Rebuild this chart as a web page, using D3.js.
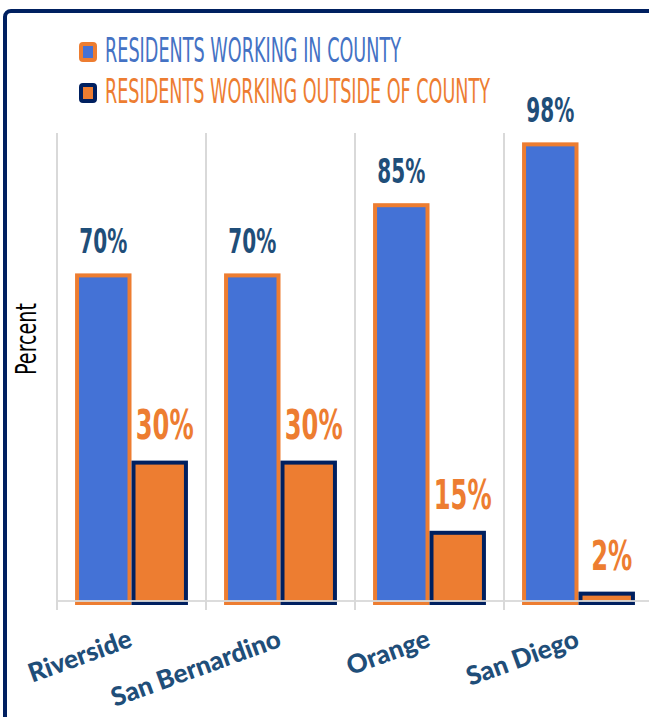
<!DOCTYPE html>
<html>
<head>
<meta charset="utf-8">
<script src="https://cdn.jsdelivr.net/npm/d3@7"></script>
<style>
  body { margin: 0; background: #fff; }
  svg { display: block; }
</style>
</head>
<body>
<svg id="chart" width="649" height="717"></svg>
<script>
// Chart data
const categories = ["Riverside", "San Bernardino", "Orange", "San Diego"];
const inCounty = [70, 70, 85, 98];
const outsideCounty = [30, 30, 15, 2];
const seriesNames = ["RESIDENTS WORKING IN COUNTY", "RESIDENTS WORKING OUTSIDE OF COUNTY"];

const BLUE = "#4472d6";
const ORANGE = "#ed7d31";
const NAVY = "#002060";
const LABEL_BLUE = "#1f4e79";
const GRID = "#d9d9d9";
const condensed = "'DejaVu Sans', sans-serif";

const svg = d3.select("#chart");

// Outer frame
svg.append("rect")
  .attr("x", 5).attr("y", 11)
  .attr("width", 700).attr("height", 760)
  .attr("rx", 6)
  .attr("fill", "none")
  .attr("stroke", NAVY)
  .attr("stroke-width", 4);

// Scales
const x = d3.scaleBand()
  .domain(categories)
  .range([57, 653]);

const sub = d3.scaleBand()
  .domain(["in", "out"])
  .range([0, x.bandwidth()])
  .paddingOuter(0.32)
  .paddingInner(0);

const y = d3.scaleLinear()
  .domain([0, 100])
  .range([601, 133]);

// Vertical gridlines at category boundaries
const bounds = categories.map(c => x(c)).concat([x(categories[categories.length - 1]) + x.bandwidth()]);
svg.append("g")
  .selectAll("line")
  .data(bounds)
  .join("line")
  .attr("x1", d => d).attr("x2", d => d)
  .attr("y1", y(100)).attr("y2", 610)
  .attr("stroke", GRID)
  .attr("stroke-width", 2);

// Bars
const rows = categories.map((c, i) => ({ cat: c, in: inCounty[i], out: outsideCounty[i] }));
const sw = 4;

const groups = svg.append("g")
  .selectAll("g")
  .data(rows)
  .join("g")
  .attr("transform", d => `translate(${x(d.cat)},0)`);

groups.append("rect")
  .attr("x", sub("in") + sw / 2)
  .attr("width", sub.bandwidth() - sw)
  .attr("y", d => y(d.in) + sw / 2)
  .attr("height", d => y(0) - y(d.in))
  .attr("fill", BLUE)
  .attr("stroke", ORANGE)
  .attr("stroke-width", sw);

groups.append("rect")
  .attr("x", sub("out") + sw / 2)
  .attr("width", sub.bandwidth() - sw)
  .attr("y", d => y(d.out) + sw / 2)
  .attr("height", d => y(0) - y(d.out))
  .attr("fill", ORANGE)
  .attr("stroke", NAVY)
  .attr("stroke-width", sw);

// Baseline
svg.append("line")
  .attr("x1", 57).attr("x2", 653)
  .attr("y1", y(0)).attr("y2", y(0))
  .attr("stroke", GRID)
  .attr("stroke-width", 2)
  .attr("opacity", 0.9);

// Data labels (condensed)
groups.append("text")
  .attr("transform", d => `translate(${sub("in") + sub.bandwidth() / 2},${y(d.in) - 20}) scale(0.59,1)`)
  .attr("text-anchor", "middle")
  .attr("font-family", condensed)
  .attr("font-weight", "bold")
  .attr("font-size", 34)
  .attr("fill", LABEL_BLUE)
  .text(d => d.in + "%");

groups.append("text")
  .attr("transform", d => `translate(${sub("out") + sub.bandwidth() / 2 + 5},${y(d.out) - 22}) scale(0.59,1)`)
  .attr("text-anchor", "middle")
  .attr("font-family", condensed)
  .attr("font-weight", "bold")
  .attr("font-size", 41)
  .attr("fill", ORANGE)
  .text(d => d.out + "%");

// Category axis labels
const xAxis = svg.append("g")
  .attr("transform", `translate(0,${y(0)})`)
  .call(d3.axisBottom(x).tickSize(0).tickPadding(0));
xAxis.select(".domain").remove();
xAxis.selectAll("text")
  .attr("font-family", "Lato, 'DejaVu Sans', sans-serif")
  .attr("font-weight", 900)
  .attr("font-size", 26)
  .attr("fill", LABEL_BLUE)
  .attr("text-anchor", "end")
  .attr("dy", 0)
  .attr("y", 0)
  .attr("transform", "translate(2,45) rotate(-20)");

// Y axis title
svg.append("text")
  .attr("transform", "translate(36,339) rotate(-90)")
  .attr("text-anchor", "middle")
  .attr("font-family", condensed)
  .attr("font-size", 28)
  .attr("textLength", 72)
  .attr("lengthAdjust", "spacingAndGlyphs")
  .attr("fill", "#000")
  .text("Percent");

// Legend
const legend = svg.append("g");
const legendFill = [BLUE, ORANGE];
const legendStroke = [ORANGE, NAVY];
const legendColor = ["#4472c4", ORANGE];
const legendLen = [296, 385];

seriesNames.forEach((name, i) => {
  const top = 42 + i * 41;
  legend.append("rect")
    .attr("x", 81).attr("y", top + 2)
    .attr("width", 14).attr("height", 16)
    .attr("rx", 2)
    .attr("fill", legendFill[i])
    .attr("stroke", legendStroke[i])
    .attr("stroke-width", 4);
  legend.append("text")
    .attr("x", 105)
    .attr("y", top + 20)
    .attr("font-family", condensed)
    .attr("font-size", 34)
    .attr("textLength", legendLen[i])
    .attr("lengthAdjust", "spacingAndGlyphs")
    .attr("fill", legendColor[i])
    .text(name);
});
</script>
</body>
</html>
